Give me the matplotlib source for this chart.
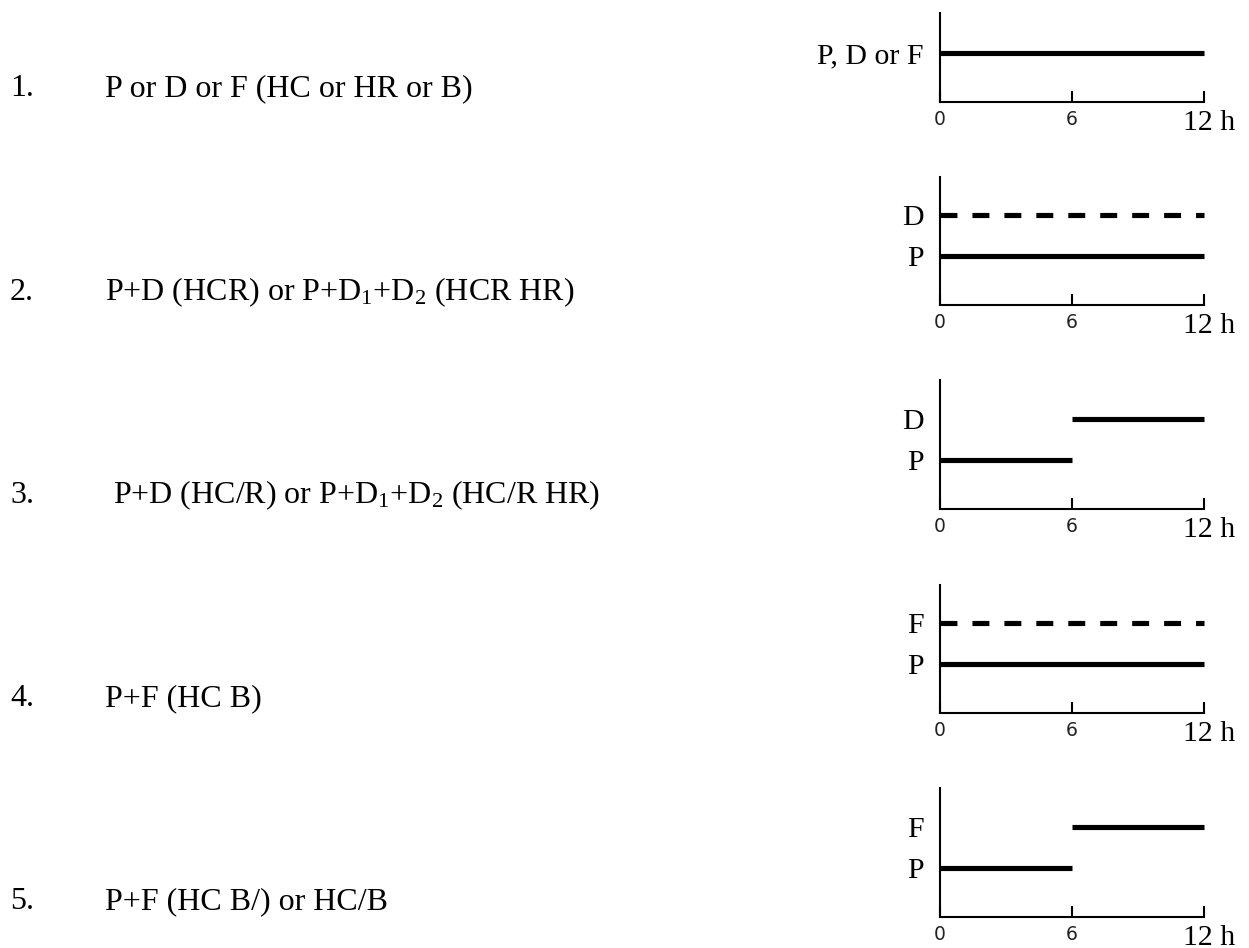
import numpy as np
import matplotlib
matplotlib.use("Agg")
import matplotlib.pyplot as plt

plt.rcParams["font.family"] = ["Liberation Serif", "DejaVu Serif"]
plt.rcParams["mathtext.fontset"] = "custom"
plt.rcParams["mathtext.rm"] = "Liberation Serif"
plt.rcParams["mathtext.default"] = "rm"
plt.rcParams["lines.scale_dashes"] = False

# left-hand descriptions
row_nums = ["1.", "2.", "3.", "4.", "5."]
row_texts = ["P or D or F (HC or HR or B)",
             "P+D (HCR) or P+D$_1$+D$_2$ (HCR HR)",
             " P+D (HC/R) or P+D$_1$+D$_2$ (HC/R HR)",
             "P+F (HC B)",
             "P+F (HC B/) or HC/B"]

# small schedule panels: level names and segments (start h, end h, level, dashed?)
level_names = [["P, D or F"], ["P", "D"], ["P", "D"], ["P", "F"], ["P", "F"]]
seg_start = [[0], [0, 0], [0, 6], [0, 0], [0, 6]]
seg_end = [[12], [12, 12], [6, 12], [12, 12], [6, 12]]
seg_level = [[1], [1, 2], [1, 2], [1, 2], [1, 2]]
seg_dashed = [[False], [False, True], [False, False], [False, True], [False, False]]
x_ticks = [0, 6, 12]

W, H = 1249, 948
fig = plt.figure(figsize=(W / 100, H / 100), dpi=100)

# text rows (baselines in px from top)
baselines = [96, 300, 503, 706, 909]
for num, txt, yb in zip(row_nums, row_texts, baselines):
    fig.text(10 / W, 1 - yb / H, num, fontsize=23, va="baseline", ha="left")
    fig.text(105 / W, 1 - yb / H, txt, fontsize=23, va="baseline", ha="left")

# panels (px from top)
p_bot = [102, 305, 509, 713, 917]
p_top = [13, 177, 380, 585, 788]
x0, x1 = 940, 1204
unit = 41.0       # px per level
lvl_off = 49.0    # px from axis to level 1

for k in range(5):
    ax = fig.add_axes([x0 / W, 1 - p_bot[k] / H, (x1 - x0) / W, (p_bot[k] - p_top[k]) / H])
    ymin = 1 - lvl_off / unit
    ax.set_ylim(ymin, ymin + (p_bot[k] - p_top[k]) / unit)
    ax.set_xlim(0, 12)
    for s, e, lv, d in zip(seg_start[k], seg_end[k], seg_level[k], seg_dashed[k]):
        ax.plot([s, e], [lv, lv], color="black", lw=3.7, solid_capstyle="butt",
                dash_capstyle="butt", ls=(0, (12.2, 10.8)) if d else "-", clip_on=False)
    for side in ("top", "right"):
        ax.spines[side].set_visible(False)
    for side in ("left", "bottom"):
        ax.spines[side].set_linewidth(1.5)
    ax.set_yticks(range(1, len(level_names[k]) + 1))
    ax.set_yticklabels(level_names[k], fontsize=21.5)
    ax.tick_params(axis="y", length=0, pad=12)
    ax.set_xticks(x_ticks)
    ax.set_xticklabels([str(t) for t in x_ticks[:-1]] + [""], fontsize=13.5,
                       fontfamily="DejaVu Sans", color="#222222")
    ax.tick_params(axis="x", direction="in", length=8, width=1.5, pad=6)
    ax.annotate("12 h", xy=(12, 0), xycoords=("data", "axes fraction"),
                xytext=(4, -20), textcoords="offset points", ha="center",
                va="baseline", fontsize=21.5, annotation_clip=False)

fig.savefig("out.png", dpi=100)
